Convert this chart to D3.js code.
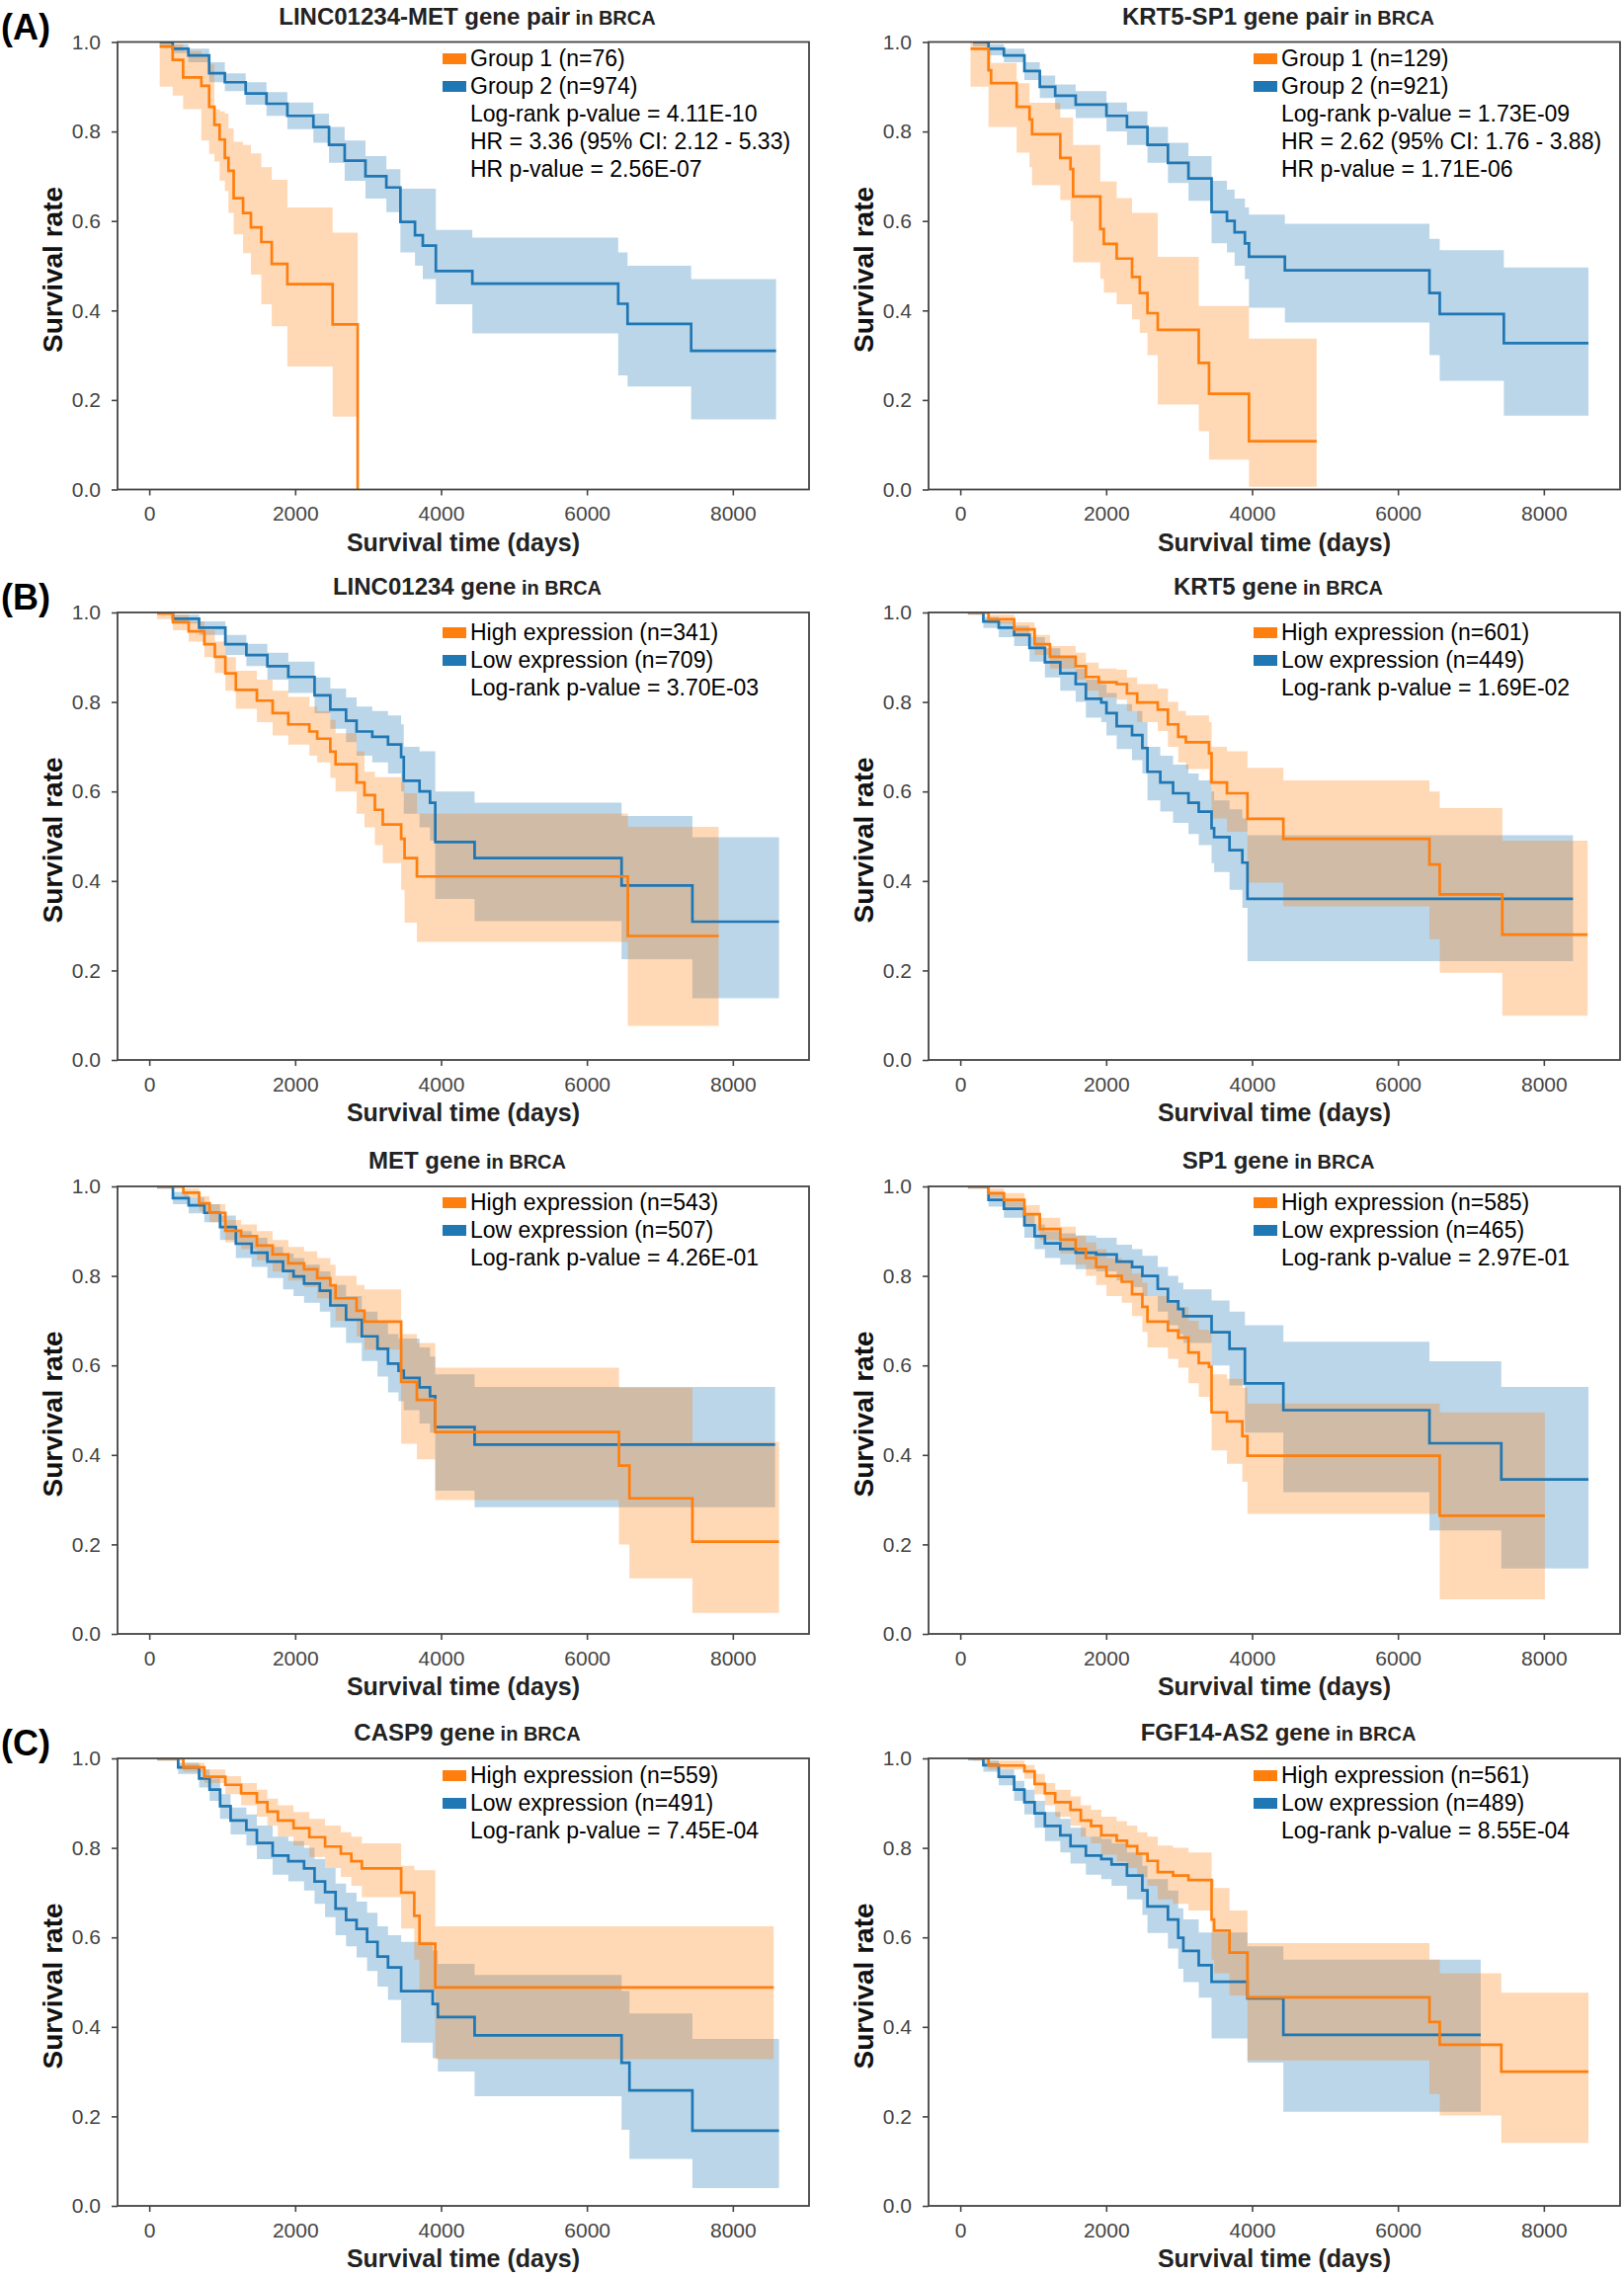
<!DOCTYPE html>
<html>
<head>
<meta charset="utf-8">
<script src="https://cdn.jsdelivr.net/npm/d3@7"></script>
<style>
  body { margin: 0; background: #fff; }
  svg text { font-family: "Liberation Sans", Arial, sans-serif; }
</style>
</head>
<body>
<script>
// KM curves: rows are [time (days), survival, CI low, CI high]
// each row holds until the next one (step after); last row marks where the curve ends

// (A) LINC01234-MET gene pair
const lincMetG1 = [
  [143, 0.99, 0.90, 1.0], [321, 0.96, 0.88, 0.995], [464, 0.921, 0.85, 0.98],
  [714, 0.902, 0.78, 0.97], [821, 0.855, 0.75, 0.95], [893, 0.815, 0.733, 0.85],
  [964, 0.782, 0.69, 0.845], [1036, 0.741, 0.667, 0.84], [1086, 0.712, 0.618, 0.807],
  [1157, 0.651, 0.57, 0.777], [1286, 0.618, 0.528, 0.77], [1393, 0.586, 0.48, 0.751],
  [1536, 0.553, 0.414, 0.72], [1679, 0.504, 0.365, 0.692], [1893, 0.459, 0.275, 0.63],
  [2514, 0.369, 0.163, 0.574], [2857, 0.0, 0.163, 0.574]
]
const lincMetG2 = [
  [143, 1.0, 0.99, 1.0], [321, 0.985, 0.975, 0.995], [536, 0.97, 0.955, 0.985],
  [821, 0.93, 0.91, 0.955], [1036, 0.91, 0.89, 0.93], [1322, 0.885, 0.86, 0.91],
  [1607, 0.862, 0.835, 0.888], [1893, 0.835, 0.805, 0.865], [2250, 0.81, 0.775, 0.84],
  [2464, 0.77, 0.73, 0.81], [2679, 0.735, 0.69, 0.78], [2964, 0.70, 0.65, 0.745],
  [3250, 0.675, 0.62, 0.716], [3443, 0.598, 0.53, 0.672], [3643, 0.568, 0.50, 0.672],
  [3750, 0.545, 0.47, 0.672], [3929, 0.488, 0.414, 0.58], [4429, 0.46, 0.349, 0.563],
  [6429, 0.415, 0.255, 0.53], [6557, 0.37, 0.23, 0.50], [7429, 0.31, 0.157, 0.47],
  [8593, 0.31, 0.157, 0.47]
]

// (A) KRT5-SP1 gene pair
const krtSpG1 = [
  [141, 0.985, 0.90, 1.0], [387, 0.937, 0.81, 0.98], [422, 0.908, 0.81, 0.953],
  [773, 0.855, 0.753, 0.908], [949, 0.827, 0.72, 0.864], [984, 0.794, 0.68, 0.864],
  [1371, 0.741, 0.647, 0.831], [1511, 0.716, 0.60, 0.831], [1547, 0.655, 0.508, 0.77],
  [1919, 0.582, 0.471, 0.688], [1968, 0.549, 0.44, 0.688], [2144, 0.516, 0.414, 0.651],
  [2355, 0.475, 0.38, 0.618], [2461, 0.439, 0.35, 0.618], [2566, 0.394, 0.30, 0.618],
  [2707, 0.357, 0.19, 0.52], [3269, 0.283, 0.13, 0.41], [3410, 0.214, 0.067, 0.41],
  [3958, 0.108, 0.006, 0.337], [4886, 0.108, 0.006, 0.337]
]
const krtSpG2 = [
  [176, 1.0, 0.99, 1.0], [387, 0.985, 0.97, 0.995], [598, 0.97, 0.955, 0.985],
  [879, 0.935, 0.915, 0.955], [1090, 0.90, 0.875, 0.925], [1301, 0.88, 0.85, 0.905],
  [1582, 0.86, 0.83, 0.89], [2004, 0.835, 0.80, 0.865], [2285, 0.81, 0.77, 0.845],
  [2566, 0.77, 0.73, 0.81], [2847, 0.73, 0.685, 0.775], [3128, 0.695, 0.645, 0.745],
  [3445, 0.62, 0.55, 0.69], [3656, 0.60, 0.53, 0.67], [3761, 0.575, 0.50, 0.65],
  [3902, 0.55, 0.47, 0.63], [3958, 0.52, 0.406, 0.614], [4450, 0.49, 0.373, 0.594],
  [6432, 0.439, 0.30, 0.56], [6573, 0.392, 0.243, 0.535], [7452, 0.327, 0.165, 0.496],
  [8612, 0.327, 0.165, 0.496]
]

// (B) LINC01234 gene
const lincHigh = [
  [108, 0.998, 0.985, 1.0], [324, 0.978, 0.96, 0.995], [540, 0.958, 0.935, 0.98],
  [755, 0.929, 0.90, 0.96], [899, 0.901, 0.865, 0.935], [1043, 0.864, 0.825, 0.90],
  [1187, 0.827, 0.785, 0.87], [1475, 0.803, 0.755, 0.85], [1691, 0.775, 0.725, 0.825],
  [1906, 0.75, 0.705, 0.811], [2194, 0.734, 0.68, 0.79], [2302, 0.718, 0.665, 0.78],
  [2482, 0.689, 0.63, 0.76], [2554, 0.661, 0.60, 0.73], [2842, 0.62, 0.55, 0.69],
  [2950, 0.592, 0.52, 0.644], [3093, 0.559, 0.48, 0.632], [3201, 0.526, 0.44, 0.632],
  [3453, 0.494, 0.38, 0.62], [3500, 0.451, 0.307, 0.596], [3669, 0.41, 0.264, 0.551],
  [6561, 0.277, 0.076, 0.521], [7806, 0.277, 0.076, 0.521]
]
const lincLow = [
  [108, 1.0, 0.995, 1.0], [324, 0.986, 0.975, 0.995], [683, 0.966, 0.95, 0.98],
  [1043, 0.929, 0.905, 0.95], [1331, 0.905, 0.88, 0.93], [1619, 0.88, 0.85, 0.91],
  [1906, 0.856, 0.82, 0.89], [2266, 0.815, 0.775, 0.855], [2482, 0.783, 0.74, 0.83],
  [2698, 0.758, 0.71, 0.81], [2842, 0.734, 0.68, 0.79], [3057, 0.722, 0.665, 0.78],
  [3273, 0.705, 0.64, 0.77], [3453, 0.677, 0.60, 0.75], [3489, 0.624, 0.55, 0.70],
  [3705, 0.60, 0.52, 0.69], [3849, 0.575, 0.49, 0.69], [3921, 0.487, 0.36, 0.60],
  [4460, 0.451, 0.31, 0.575], [6475, 0.39, 0.225, 0.545], [7446, 0.309, 0.138, 0.498],
  [8633, 0.309, 0.138, 0.498]
]

// (B) KRT5 gene
const krtHigh = [
  [105, 1.0, 0.995, 1.0], [387, 0.985, 0.975, 0.995], [738, 0.962, 0.945, 0.978],
  [1019, 0.929, 0.905, 0.95], [1230, 0.901, 0.875, 0.925], [1582, 0.88, 0.85, 0.91],
  [1722, 0.856, 0.825, 0.888], [1898, 0.844, 0.81, 0.875], [2144, 0.84, 0.805, 0.872],
  [2285, 0.819, 0.78, 0.855], [2425, 0.799, 0.755, 0.84], [2707, 0.783, 0.735, 0.83],
  [2847, 0.75, 0.70, 0.80], [2988, 0.722, 0.665, 0.78], [3093, 0.71, 0.65, 0.77],
  [3410, 0.685, 0.62, 0.755], [3445, 0.62, 0.54, 0.70], [3656, 0.596, 0.51, 0.69],
  [3937, 0.539, 0.396, 0.653], [4429, 0.494, 0.343, 0.625], [6432, 0.437, 0.27, 0.60],
  [6573, 0.37, 0.195, 0.563], [7431, 0.28, 0.099, 0.49], [8600, 0.28, 0.099, 0.49]
]
const krtLow = [
  [105, 1.0, 0.995, 1.0], [316, 0.98, 0.965, 0.99], [527, 0.966, 0.945, 0.98],
  [738, 0.95, 0.925, 0.97], [949, 0.921, 0.89, 0.945], [1160, 0.889, 0.855, 0.92],
  [1371, 0.864, 0.825, 0.90], [1582, 0.84, 0.80, 0.875], [1722, 0.807, 0.765, 0.85],
  [1933, 0.799, 0.755, 0.84], [2004, 0.775, 0.725, 0.82], [2144, 0.746, 0.695, 0.795],
  [2355, 0.726, 0.67, 0.78], [2496, 0.697, 0.64, 0.755], [2566, 0.644, 0.58, 0.70],
  [2742, 0.62, 0.555, 0.68], [2917, 0.596, 0.53, 0.66], [3128, 0.575, 0.505, 0.64],
  [3269, 0.555, 0.48, 0.625], [3445, 0.518, 0.44, 0.60], [3480, 0.498, 0.42, 0.58],
  [3691, 0.469, 0.38, 0.56], [3867, 0.441, 0.34, 0.54], [3937, 0.36, 0.221, 0.502],
  [8400, 0.36, 0.221, 0.502]
]

// MET gene
const metHigh = [
  [108, 1.0, 0.995, 1.0], [467, 0.986, 0.975, 0.995], [683, 0.962, 0.945, 0.978],
  [827, 0.941, 0.92, 0.96], [1043, 0.901, 0.875, 0.925], [1259, 0.889, 0.86, 0.915],
  [1475, 0.868, 0.835, 0.90], [1691, 0.848, 0.81, 0.88], [1906, 0.828, 0.79, 0.865],
  [2122, 0.815, 0.775, 0.855], [2302, 0.795, 0.75, 0.84], [2482, 0.779, 0.73, 0.825],
  [2554, 0.75, 0.70, 0.80], [2842, 0.722, 0.665, 0.78], [2950, 0.698, 0.635, 0.77],
  [3453, 0.563, 0.425, 0.67], [3669, 0.523, 0.39, 0.65], [3921, 0.451, 0.299, 0.595],
  [6439, 0.376, 0.20, 0.55], [6583, 0.303, 0.124, 0.55], [7446, 0.206, 0.047, 0.429],
  [8633, 0.206, 0.047, 0.429]
]
const metLow = [
  [108, 1.0, 0.995, 1.0], [324, 0.974, 0.96, 0.988], [540, 0.958, 0.94, 0.975],
  [755, 0.941, 0.92, 0.96], [971, 0.909, 0.88, 0.935], [1187, 0.872, 0.84, 0.90],
  [1403, 0.852, 0.82, 0.885], [1619, 0.832, 0.795, 0.865], [1834, 0.811, 0.77, 0.85],
  [1978, 0.799, 0.755, 0.84], [2122, 0.783, 0.74, 0.825], [2338, 0.767, 0.72, 0.81],
  [2482, 0.734, 0.685, 0.78], [2698, 0.702, 0.65, 0.755], [2914, 0.665, 0.61, 0.72],
  [3129, 0.637, 0.575, 0.70], [3273, 0.604, 0.54, 0.67], [3417, 0.588, 0.52, 0.66],
  [3489, 0.572, 0.50, 0.66], [3705, 0.551, 0.47, 0.64], [3849, 0.531, 0.45, 0.62],
  [3921, 0.462, 0.32, 0.58], [4460, 0.423, 0.283, 0.552], [8579, 0.423, 0.283, 0.552]
]

// SP1 gene
const spHigh = [
  [105, 1.0, 0.995, 1.0], [387, 0.985, 0.975, 0.995], [598, 0.97, 0.955, 0.985],
  [879, 0.938, 0.915, 0.958], [1090, 0.905, 0.88, 0.93], [1371, 0.881, 0.85, 0.91],
  [1582, 0.86, 0.825, 0.89], [1722, 0.84, 0.80, 0.875], [1863, 0.82, 0.78, 0.86],
  [2004, 0.80, 0.755, 0.84], [2214, 0.787, 0.74, 0.83], [2355, 0.759, 0.71, 0.805],
  [2496, 0.731, 0.675, 0.785], [2566, 0.698, 0.64, 0.755], [2847, 0.678, 0.615, 0.74],
  [2988, 0.662, 0.595, 0.73], [3128, 0.629, 0.56, 0.70], [3269, 0.605, 0.53, 0.68],
  [3410, 0.597, 0.52, 0.675], [3445, 0.495, 0.41, 0.58], [3656, 0.475, 0.38, 0.57],
  [3867, 0.442, 0.34, 0.55], [3937, 0.398, 0.268, 0.515], [6573, 0.264, 0.077, 0.495],
  [8014, 0.264, 0.077, 0.495]
]
const spLow = [
  [105, 1.0, 0.995, 1.0], [387, 0.97, 0.955, 0.985], [598, 0.95, 0.93, 0.97],
  [879, 0.913, 0.885, 0.94], [1019, 0.889, 0.86, 0.915], [1160, 0.873, 0.84, 0.90],
  [1371, 0.86, 0.825, 0.895], [1582, 0.852, 0.815, 0.89], [1863, 0.848, 0.81, 0.885],
  [2144, 0.832, 0.79, 0.87], [2355, 0.82, 0.775, 0.86], [2496, 0.80, 0.755, 0.845],
  [2707, 0.771, 0.72, 0.82], [2847, 0.743, 0.69, 0.80], [2988, 0.726, 0.67, 0.785],
  [3058, 0.71, 0.65, 0.77], [3445, 0.674, 0.60, 0.745], [3691, 0.637, 0.555, 0.72],
  [3902, 0.56, 0.45, 0.69], [4429, 0.50, 0.317, 0.653], [6432, 0.426, 0.231, 0.609],
  [7417, 0.345, 0.146, 0.552], [8612, 0.345, 0.146, 0.552]
]

// (C) CASP9 gene
const caspHigh = [
  [108, 1.0, 0.995, 1.0], [467, 0.98, 0.97, 0.99], [755, 0.959, 0.945, 0.975],
  [1043, 0.941, 0.92, 0.96], [1259, 0.922, 0.895, 0.945], [1475, 0.902, 0.87, 0.93],
  [1619, 0.881, 0.85, 0.91], [1763, 0.861, 0.825, 0.895], [1978, 0.844, 0.805, 0.88],
  [2194, 0.824, 0.78, 0.865], [2410, 0.803, 0.755, 0.85], [2626, 0.787, 0.735, 0.835],
  [2770, 0.77, 0.715, 0.825], [2914, 0.754, 0.69, 0.81], [3453, 0.70, 0.62, 0.76],
  [3633, 0.648, 0.55, 0.75], [3705, 0.586, 0.48, 0.75], [3921, 0.488, 0.328, 0.625],
  [8561, 0.488, 0.328, 0.625]
]
const caspLow = [
  [108, 1.0, 0.995, 1.0], [396, 0.98, 0.965, 0.99], [683, 0.955, 0.935, 0.975],
  [827, 0.93, 0.905, 0.955], [971, 0.893, 0.865, 0.92], [1115, 0.861, 0.83, 0.89],
  [1331, 0.84, 0.805, 0.875], [1475, 0.811, 0.775, 0.85], [1691, 0.783, 0.74, 0.825],
  [1906, 0.77, 0.725, 0.815], [2122, 0.754, 0.705, 0.80], [2266, 0.725, 0.675, 0.775],
  [2410, 0.701, 0.645, 0.755], [2554, 0.664, 0.605, 0.72], [2698, 0.639, 0.58, 0.70],
  [2842, 0.619, 0.555, 0.68], [2986, 0.59, 0.525, 0.655], [3129, 0.557, 0.49, 0.625],
  [3273, 0.533, 0.46, 0.605], [3453, 0.48, 0.365, 0.59], [3885, 0.451, 0.33, 0.57],
  [3957, 0.422, 0.30, 0.541], [4460, 0.381, 0.245, 0.516], [6475, 0.32, 0.17, 0.48],
  [6583, 0.258, 0.105, 0.43], [7446, 0.168, 0.04, 0.373], [8633, 0.168, 0.04, 0.373]
]

// (C) FGF14-AS2 gene
const fgfHigh = [
  [176, 1.0, 0.995, 1.0], [387, 0.984, 0.975, 0.995], [879, 0.971, 0.955, 0.985],
  [1019, 0.943, 0.92, 0.965], [1160, 0.922, 0.895, 0.945], [1301, 0.902, 0.87, 0.93],
  [1511, 0.885, 0.85, 0.915], [1652, 0.861, 0.825, 0.895], [1793, 0.849, 0.81, 0.885],
  [1933, 0.828, 0.785, 0.87], [2144, 0.816, 0.77, 0.86], [2285, 0.804, 0.755, 0.85],
  [2425, 0.787, 0.735, 0.835], [2566, 0.771, 0.715, 0.825], [2707, 0.746, 0.685, 0.805],
  [2917, 0.738, 0.675, 0.80], [3128, 0.728, 0.66, 0.79], [3445, 0.64, 0.55, 0.73],
  [3480, 0.615, 0.52, 0.71], [3691, 0.566, 0.47, 0.66], [3937, 0.466, 0.325, 0.587],
  [6432, 0.411, 0.25, 0.55], [6573, 0.36, 0.202, 0.52], [7417, 0.30, 0.141, 0.476],
  [8612, 0.30, 0.141, 0.476]
]
const fgfLow = [
  [105, 1.0, 0.995, 1.0], [316, 0.985, 0.97, 0.995], [527, 0.959, 0.94, 0.975],
  [738, 0.93, 0.905, 0.95], [879, 0.902, 0.875, 0.93], [1019, 0.877, 0.845, 0.905],
  [1160, 0.849, 0.815, 0.88], [1371, 0.828, 0.79, 0.865], [1511, 0.804, 0.765, 0.845],
  [1722, 0.783, 0.74, 0.825], [1933, 0.775, 0.73, 0.82], [2074, 0.763, 0.715, 0.81],
  [2285, 0.738, 0.685, 0.79], [2496, 0.705, 0.65, 0.76], [2566, 0.669, 0.61, 0.73],
  [2847, 0.64, 0.575, 0.705], [2988, 0.599, 0.53, 0.665], [3058, 0.57, 0.50, 0.64],
  [3269, 0.538, 0.465, 0.611], [3445, 0.501, 0.374, 0.611], [3937, 0.464, 0.32, 0.58],
  [4429, 0.382, 0.21, 0.55], [7135, 0.382, 0.21, 0.55]
]

const titles = ['LINC01234-MET gene pair', 'KRT5-SP1 gene pair', 'LINC01234 gene', 'KRT5 gene',
  'MET gene', 'SP1 gene', 'CASP9 gene', 'FGF14-AS2 gene']
const highLabels = ['Group 1 (n=76)', 'Group 1 (n=129)', 'High expression (n=341)', 'High expression (n=601)',
  'High expression (n=543)', 'High expression (n=585)', 'High expression (n=559)', 'High expression (n=561)']
const lowLabels = ['Group 2 (n=974)', 'Group 2 (n=921)', 'Low expression (n=709)', 'Low expression (n=449)',
  'Low expression (n=507)', 'Low expression (n=465)', 'Low expression (n=491)', 'Low expression (n=489)']
const statLines = [
  ['Log-rank p-value = 4.11E-10', 'HR = 3.36 (95% CI: 2.12 - 5.33)', 'HR p-value = 2.56E-07'],
  ['Log-rank p-value = 1.73E-09', 'HR = 2.62 (95% CI: 1.76 - 3.88)', 'HR p-value = 1.71E-06'],
  ['Log-rank p-value = 3.70E-03'], ['Log-rank p-value = 1.69E-02'],
  ['Log-rank p-value = 4.26E-01'], ['Log-rank p-value = 2.97E-01'],
  ['Log-rank p-value = 7.45E-04'], ['Log-rank p-value = 8.55E-04']
]
const highSeries = [lincMetG1, krtSpG1, lincHigh, krtHigh, metHigh, spHigh, caspHigh, fgfHigh]
const lowSeries = [lincMetG2, krtSpG2, lincLow, krtLow, metLow, spLow, caspLow, fgfLow]
const rowTags = ['(A)', '(B)', '', '(C)']
const xTicks = [0, 2000, 4000, 6000, 8000]
const yTicks = [0, 0.2, 0.4, 0.6, 0.8, 1.0]

// layout
const W = 1644, H = 2305
const colX = [119, 940]
const rowY = [42.5, 620, 1201, 1780]
const legendDy = [24.5, 28, 24, 25]
const plotW = 700, plotH = 453
const xDomain = [-435, 9045]
const orange = '#ff7f0e', blue = '#1f77b4'

const svg = d3.select('body').append('svg')
  .attr('width', W).attr('height', H)
  .style('background', '#fff')

function drawPanel (i) {
  const col = i % 2
  const row = Math.floor(i / 2)
  const x0 = colX[col], y0 = rowY[row]
  const x = d3.scaleLinear().domain(xDomain).range([x0, x0 + plotW])
  const y = d3.scaleLinear().domain([0, 1]).range([y0 + plotH, y0])

  svg.append('clipPath').attr('id', 'clip' + i)
    .append('rect').attr('x', x0).attr('y', y0).attr('width', plotW).attr('height', plotH)

  const g = svg.append('g').attr('clip-path', 'url(#clip' + i + ')')

  const band = d3.area().curve(d3.curveStepAfter)
    .x(d => x(d[0])).y0(d => y(d[2])).y1(d => y(d[3]))
  const line = d3.line().curve(d3.curveStepAfter)
    .x(d => x(d[0])).y(d => y(d[1]))

  // bands underneath, both curves on top
  const series = [{ rows: lowSeries[i], color: blue }, { rows: highSeries[i], color: orange }]
  series.forEach(s => {
    g.append('path').datum(s.rows).attr('d', band)
      .attr('fill', s.color).attr('fill-opacity', 0.3).attr('stroke', 'none')
  })
  series.forEach(s => {
    g.append('path').datum(s.rows).attr('d', line)
      .attr('fill', 'none').attr('stroke', s.color).attr('stroke-width', 2.7)
  })

  // axes
  const xAxis = svg.append('g')
    .attr('transform', 'translate(0,' + (y0 + plotH) + ')')
    .call(d3.axisBottom(x).tickValues(xTicks).tickSize(6).tickPadding(11).tickFormat(d3.format('d')))
  const yAxis = svg.append('g')
    .attr('transform', 'translate(' + x0 + ',0)')
    .call(d3.axisLeft(y).tickValues(yTicks).tickSize(6).tickPadding(11).tickFormat(d3.format('.1f')))
  ;[xAxis, yAxis].forEach(a => {
    a.select('.domain').remove()
    a.selectAll('line').attr('stroke', '#444').attr('stroke-width', 1.6)
    a.selectAll('text').attr('font-size', 21).attr('fill', '#444')
      .attr('font-family', '"Liberation Sans", Arial, sans-serif')
    a.attr('font-family', null).attr('font-size', null)
  })

  // frame
  svg.append('rect')
    .attr('x', x0).attr('y', y0).attr('width', plotW).attr('height', plotH)
    .attr('fill', 'none').attr('stroke', '#444').attr('stroke-width', 1.8)

  // title
  const t = svg.append('text')
    .attr('x', x0 + plotW / 2 + 4).attr('y', y0 - 18)
    .attr('text-anchor', 'middle').attr('font-weight', 'bold').attr('fill', '#222')
  t.append('tspan').attr('font-size', 24).text(titles[i])
  t.append('tspan').attr('font-size', 20).text(' in BRCA')

  // axis labels
  svg.append('text')
    .attr('x', x0 + plotW / 2).attr('y', y0 + plotH + 62)
    .attr('text-anchor', 'middle').attr('font-weight', 'bold').attr('font-size', 25)
    .attr('fill', '#222').text('Survival time (days)')
  svg.append('text')
    .attr('transform', 'translate(' + (x0 - 56) + ',' + (y0 + plotH / 2 + 4) + ') rotate(-90)')
    .attr('text-anchor', 'middle').attr('font-weight', 'bold').attr('font-size', 28)
    .attr('fill', '#111').text('Survival rate')

  // legend
  const lx = x0 + 357
  const ly = y0 + legendDy[row]
  const lines = [highLabels[i], lowLabels[i]].concat(statLines[i])
  lines.forEach((txt, k) => {
    svg.append('text')
      .attr('x', lx).attr('y', ly + k * 28)
      .attr('font-size', 23).attr('fill', '#000').text(txt)
  })
  ;[orange, blue].forEach((c, k) => {
    svg.append('rect')
      .attr('x', x0 + 329).attr('y', ly + k * 28 - 13)
      .attr('width', 24).attr('height', 11).attr('fill', c)
  })

  if (col === 0 && rowTags[row]) {
    svg.append('text')
      .attr('x', 1).attr('y', y0 - 3)
      .attr('font-weight', 'bold').attr('font-size', 36).attr('fill', '#000')
      .text(rowTags[row])
  }
}

d3.range(8).forEach(drawPanel)
</script>
</body>
</html>
